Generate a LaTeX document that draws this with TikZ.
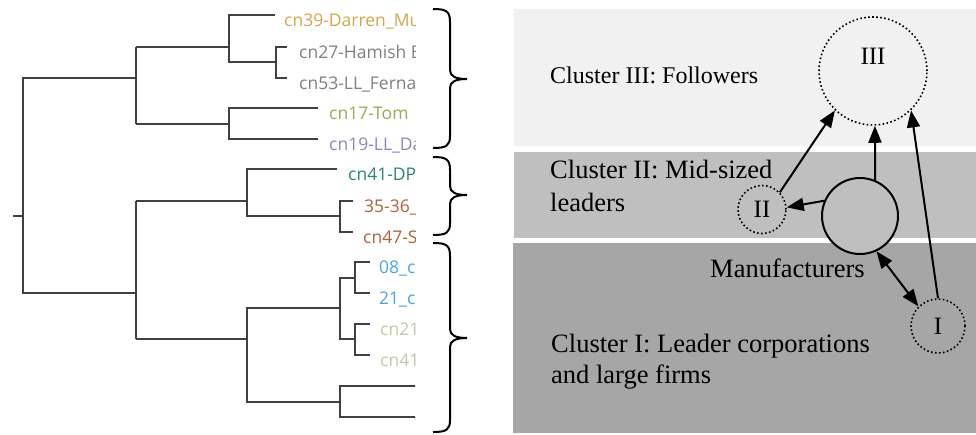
\documentclass[tikz,border=0pt]{standalone}
\usepackage{fontspec}
\setmainfont{Liberation Serif}
\newfontfamily\labfont{Open Sans}
\usetikzlibrary{arrows.meta}
\definecolor{treecol}{HTML}{404040}
\definecolor{cgold}{HTML}{D2A64E}
\definecolor{cgray}{HTML}{7F7F7F}
\definecolor{colive}{HTML}{A3A454}
\definecolor{clav}{HTML}{8A87C2}
\definecolor{cteal}{HTML}{2C8471}
\definecolor{cbrown}{HTML}{B0603A}
\definecolor{cblue}{HTML}{4BA3E8}
\definecolor{cpale}{HTML}{BDC9A6}
\definecolor{bandA}{HTML}{F1F1F1}
\definecolor{bandB}{HTML}{BFBFBF}
\definecolor{bandC}{HTML}{A6A6A6}
\tikzset{
  treeline/.style={draw=treecol, line width=2pt, line join=miter},
  leaf/.style={anchor=base west, inner sep=0pt, font=\labfont\fontsize{17.5}{20}\selectfont},
  bracestyle/.style={draw=black, line width=2pt},
  bigtext/.style={anchor=base west, inner sep=0pt, font=\fontsize{26.5}{31}\selectfont},
  dotcirc/.style={circle, draw=black, line width=1.6pt, dash pattern=on 1.6pt off 2.4pt, inner sep=0pt, font=\fontsize{25}{30}\selectfont},
  solidcirc/.style={circle, draw=black, line width=2pt, fill=bandB, inner sep=0pt},
  arr/.style={draw=black, line width=2pt, -{Triangle[length=17pt,width=13pt]}},
  darr/.style={draw=black, line width=2pt, {Triangle[length=17pt,width=13pt]}-{Triangle[length=17pt,width=13pt]}},
}
\begin{document}
\begin{tikzpicture}[x=1pt,y=-1pt]
\useasboundingbox (0,0) rectangle (976,434);
% ---------------- dendrogram ----------------
\begin{scope}
\clip (0,0) rectangle (415,434);
\path[treeline] (13,216) -- (23,216);
\path[treeline] (136,78) -- (23,78) -- (23,293) -- (136,293);
% upper cluster
\path[treeline] (136,47) -- (136,124);
\path[treeline] (229,47) -- (136,47);
\path[treeline] (275,15) -- (229,15) -- (229,62) -- (276,62);
\path[treeline] (287,47) -- (276,47) -- (276,78) -- (287,78);
\path[treeline] (136,124) -- (229,124);
\path[treeline] (318,108) -- (229,108) -- (229,139) -- (318,139);
% lower cluster
\path[treeline] (136,201) -- (136,339);
\path[treeline] (136,201) -- (247,201);
\path[treeline] (337,169) -- (247,169) -- (247,216) -- (340,216);
\path[treeline] (353,201) -- (340,201) -- (340,232) -- (353,232);
\path[treeline] (136,339) -- (247,339);
\path[treeline] (340,308) -- (247,308) -- (247,402) -- (340,402);
\path[treeline] (355,278) -- (340,278) -- (340,339) -- (355,339);
\path[treeline] (370,262) -- (355,262) -- (355,293) -- (370,293);
\path[treeline] (370,324) -- (355,324) -- (355,355) -- (370,355);
\path[treeline] (420,386) -- (340,386) -- (340,417) -- (420,417);
% leaf labels
\node[leaf, text=cgold] (l39) at (284,26) {cn39-Darren\_Mu};
\node[leaf, text=cgray] (l27) at (299,58) {cn27-Hamish B};
\node[leaf, text=cgray] (l53) at (299,89) {cn53-LL\_Ferna};
\node[leaf, text=colive] (l17) at (329,119) {cn17-Tom};
\node[leaf, text=clav] (l19) at (329,150) {cn19-LL\_Da};
\node[leaf, text=cteal] (l41) at (348,180) {cn41-DP};
\node[leaf, text=cbrown] (l35) at (364,212) {35-36\_};
\node[leaf, text=cbrown] (l47) at (363,243) {cn47-S};
\node[leaf, text=cblue] (l08) at (379,273) {08\_c};
\node[leaf, text=cblue] (l21) at (379,304) {21\_c};
\node[leaf, text=cpale] (l21b) at (380,335) {cn21};
\node[leaf, text=cpale] (l41b) at (380,366) {cn41};
\end{scope}
% braces
\path[bracestyle] (433,9) .. controls (446,9) and (450,11) .. (450,22) -- (450,70)
  .. controls (450,76) and (455,79) .. (467,79) .. controls (455,79) and (450,82) .. (450,88)
  -- (450,136) .. controls (450,146) and (446,148) .. (433,148);
\path[bracestyle] (433,157) .. controls (446,157) and (450,159) .. (450,170) -- (450,186)
  .. controls (450,192) and (455,195) .. (467,195) .. controls (455,195) and (450,198) .. (450,204)
  -- (450,223) .. controls (450,233) and (446,235) .. (433,235);
\path[bracestyle] (433,243) .. controls (446,243) and (450,245) .. (450,256) -- (450,329)
  .. controls (450,335) and (455,338) .. (467,338) .. controls (455,338) and (450,341) .. (450,347)
  -- (450,420) .. controls (450,430) and (446,432) .. (433,432);
% ---------------- right panel ----------------
\fill[bandA] (514,9) rectangle (976,146);
\fill[bandB] (514,152) rectangle (976,238);
\fill[bandC] (513,243) rectangle (976,433);
\node[bigtext, font=\fontsize{24}{29}\selectfont] (t3) at (550,83) {Cluster III: Followers};
\node[bigtext] (t2a) at (550,178) {Cluster II: Mid-sized};
\node[bigtext] (t2b) at (550,211) {leaders};
\node[bigtext] (tm) at (710,277) {Manufacturers};
\node[bigtext] (t1a) at (551,352) {Cluster I: Leader corporations};
\node[bigtext] (t1b) at (551,383) {and large firms};
% circles
\node[dotcirc, minimum size=108pt] (III) at (873,71) {};
\node[inner sep=0pt, font=\fontsize{25}{30}\selectfont] (tIII) at (873,56) {III};
\node[dotcirc, minimum size=48pt] (II) at (762,209.5) {II};
\node[solidcirc, minimum size=76pt] (M) at (860,216) {};
\node[dotcirc, minimum size=54pt] (I) at (938,326) {I};
% arrows
\draw[arr] (II.44) -- (III.226);
\draw[arr] (M.67) -- (III.272);
\draw[arr] (I.north) -- (III.314);
\draw[arr] (M.157) -- (II.5);
\draw[darr] (M.295) -- (I.135);
\end{tikzpicture}
\end{document}
